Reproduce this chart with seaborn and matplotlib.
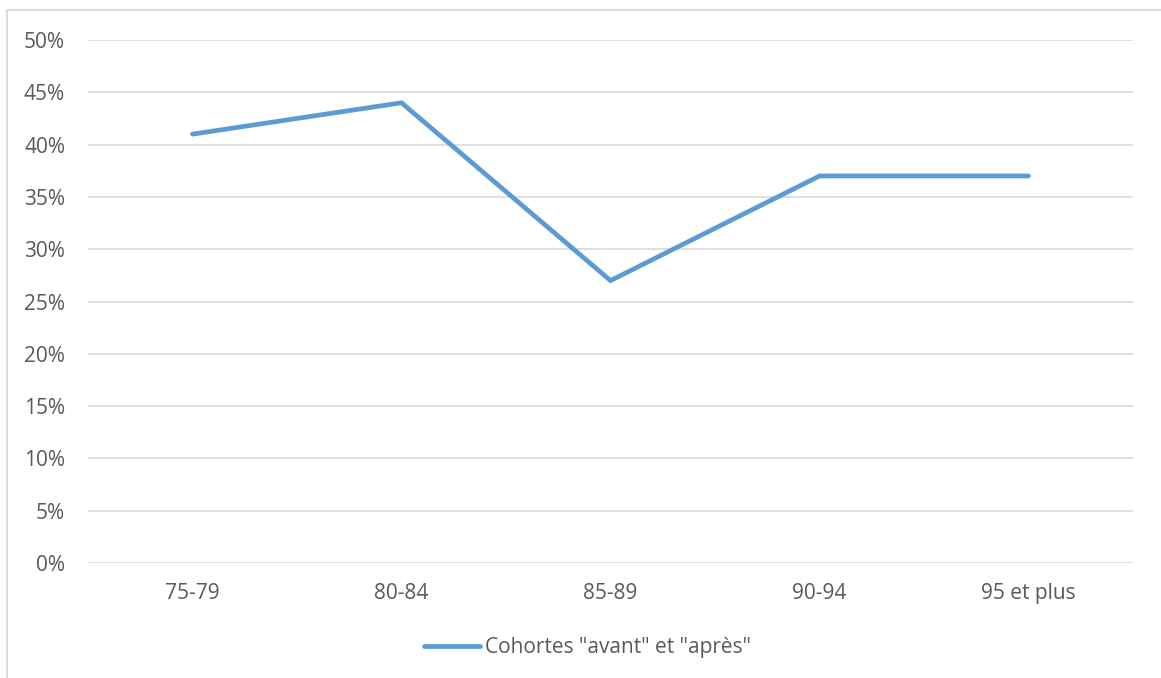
import matplotlib
matplotlib.use("Agg")
import matplotlib.pyplot as plt
from matplotlib.patches import Rectangle
from matplotlib.ticker import FuncFormatter, MultipleLocator
import seaborn as sns
import pandas as pd

# Age cohorts and share of respondents (%)
categories = ["75-79", "80-84", "85-89", "90-94", "95 et plus"]
values = [41, 44, 27, 37, 37]
series_name = 'Cohortes "avant" et "après"'

df = pd.DataFrame({"cohorte": categories, "part": values})

sns.set_theme(style="white")
plt.rcParams["font.family"] = ["Open Sans", "DejaVu Sans"]

fig = plt.figure(figsize=(11.61, 6.78), dpi=100)
ax = fig.add_axes([88 / 1161, 1 - 563 / 678, (1133 - 88) / 1161, (563 - 40) / 678])

sns.lineplot(data=df, x="cohorte", y="part", ax=ax, color="#5b9bd5",
             linewidth=3.4, solid_capstyle="round", solid_joinstyle="miter",
             label=series_name, sort=False)

ax.set_xlim(-0.5, len(categories) - 0.5)
ax.set_ylim(0, 50)
ax.yaxis.set_major_locator(MultipleLocator(5))
ax.yaxis.set_major_formatter(FuncFormatter(lambda v, _: f"{v:.0f}%"))
ax.grid(axis="y", color="#d9d9d9", linewidth=1.2)
ax.set_axisbelow(True)
for s in ax.spines.values():
    s.set_visible(False)
ax.tick_params(axis="both", length=0, labelsize=15, colors="#595959")
ax.tick_params(axis="y", pad=16.5)
ax.tick_params(axis="x", pad=14.5)
ax.set_xlabel("")
ax.set_ylabel("")

ax.legend(loc="center", bbox_to_anchor=(587.5 / 1161, 1 - 648 / 678),
          bbox_transform=fig.transFigure, frameon=False, fontsize=15,
          labelcolor="#595959", handlelength=2.65, handletextpad=0.25)

# Outer chart frame
fig.patches.append(Rectangle((7 / 1161, -0.1), 1.2, 1 - 10 / 678 + 0.1,
                             transform=fig.transFigure, fill=False,
                             edgecolor="#d9d9d9", linewidth=1.3))

fig.savefig("out.png", dpi=100)
